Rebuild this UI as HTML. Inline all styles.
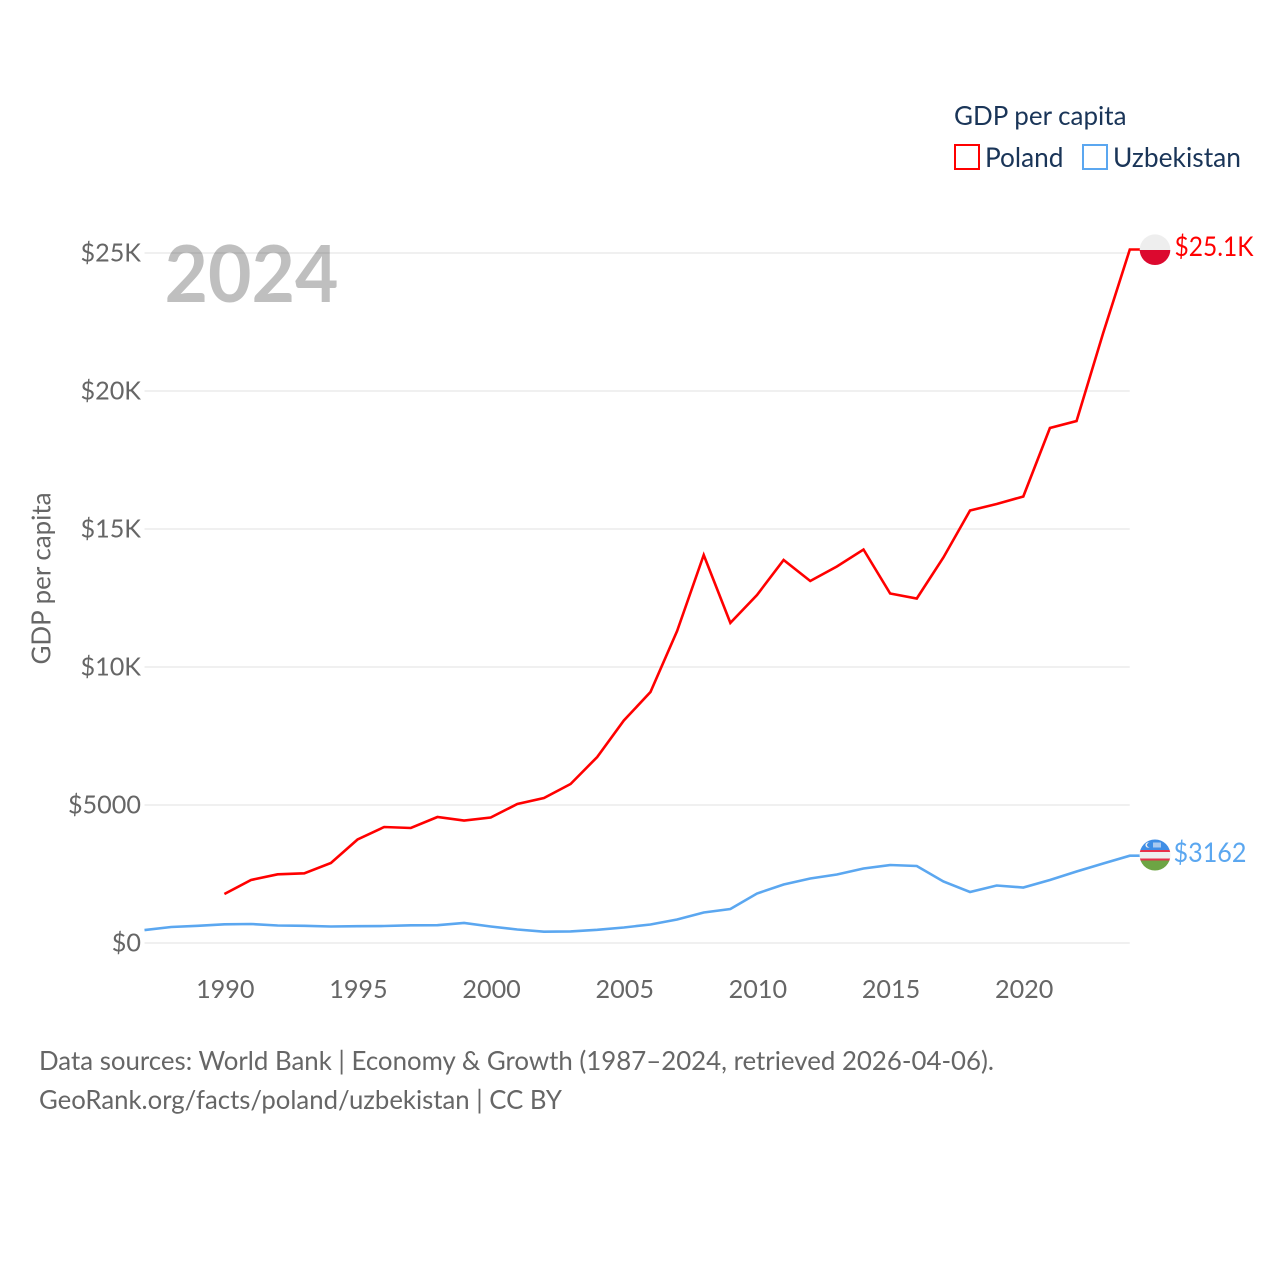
<!DOCTYPE html>
<html lang="en">
<head>
<meta charset="utf-8">
<title>GDP per capita: Poland and Uzbekistan</title>
<style>
html,body{margin:0;padding:0;background:#fff;width:1280px;height:1280px;overflow:hidden}
svg{display:block}
text{font-family:"Lato","Carlito","Liberation Sans",sans-serif}
</style>
</head>
<body>
<svg id="chart" xmlns="http://www.w3.org/2000/svg" width="1280" height="1280" viewBox="0 0 1280 1280">
  <defs>
    <clipPath id="clip-pl"><circle cx="1155" cy="249.7" r="15.3"/></clipPath>
    <clipPath id="clip-uz"><circle cx="1155" cy="855" r="15.5"/></clipPath>
  </defs>
  <g id="grid"></g>
  <g id="yticks"></g>
  <g id="xticks"></g>
  <text x="164.5" y="302" font-size="79" font-weight="700" fill="#000" fill-opacity="0.25" textLength="174" lengthAdjust="spacingAndGlyphs">2024</text>
  <text transform="translate(50.5,664.5) rotate(-90)" font-size="26" fill="#666" textLength="172" lengthAdjust="spacingAndGlyphs">GDP per capita</text>
  <g id="series"></g>

  <g clip-path="url(#clip-pl)">
    <rect x="1139" y="234" width="32" height="16" fill="#eeeeee"/>
    <rect x="1139" y="250" width="32" height="16" fill="#dc092f"/>
  </g>
  <g clip-path="url(#clip-uz)">
    <rect x="1139" y="839" width="32" height="11" fill="#3f8ee6"/>
    <rect x="1139" y="850" width="32" height="2" fill="#e8304a"/>
    <rect x="1139" y="852" width="32" height="6.5" fill="#eeeeee"/>
    <rect x="1139" y="858.5" width="32" height="2" fill="#e8304a"/>
    <rect x="1139" y="860.5" width="32" height="11" fill="#6da544"/>
    <rect x="1153" y="842.5" width="8" height="5" fill="#a9c9f0"/>
    <circle cx="1148" cy="845" r="2.6" fill="#eeeeee"/>
    <circle cx="1149.2" cy="845" r="2.2" fill="#3f8ee6"/>
  </g>
  <text id="label-pl" x="1174.5" y="256" font-size="27" fill="#ff0000" textLength="79" lengthAdjust="spacingAndGlyphs"></text>
  <text id="label-uz" x="1173.5" y="862" font-size="27" fill="#5ba7f0" textLength="73" lengthAdjust="spacingAndGlyphs"></text>

  <g>
    <text x="954" y="125" font-size="26.5" fill="#1a3558" textLength="172.5" lengthAdjust="spacingAndGlyphs">GDP per capita</text>
    <g>
      <rect x="955" y="145" width="24" height="24" fill="none" stroke="#ff0000" stroke-width="2"/>
      <text x="985" y="167" font-size="27" fill="#1a3558" textLength="78.5" lengthAdjust="spacingAndGlyphs">Poland</text>
    </g>
    <g>
      <rect x="1083" y="145" width="24" height="24" fill="none" stroke="#5ba7f0" stroke-width="2"/>
      <text x="1113" y="167" font-size="27" fill="#1a3558" textLength="128" lengthAdjust="spacingAndGlyphs">Uzbekistan</text>
    </g>
  </g>

  <text x="39" y="1070" font-size="26.5" fill="#666" textLength="955" lengthAdjust="spacingAndGlyphs">Data sources: World Bank | Economy &amp; Growth (1987–2024, retrieved 2026-04-06).</text>
  <text x="39" y="1109" font-size="26.5" fill="#666" textLength="523" lengthAdjust="spacingAndGlyphs">GeoRank.org/facts/poland/uzbekistan | CC BY</text>
</svg>
<script>
var polandYears = [1990,1991,1992,1993,1994,1995,1996,1997,1998,1999,2000,2001,2002,2003,2004,2005,2006,2007,2008,2009,2010,2011,2012,2013,2014,2015,2016,2017,2018,2019,2020,2021,2022,2023,2024];
var polandValues = [1775,2283,2489,2525,2899,3750,4203,4167,4565,4438,4547,5036,5254,5761,6739,8062,9094,11304,14058,11600,12609,13877,13116,13641,14257,12663,12482,13967,15670,15906,16178,18659,18913,22101,25127];
var uzbekistanYears = [1987,1988,1989,1990,1991,1992,1993,1994,1995,1996,1997,1998,1999,2000,2001,2002,2003,2004,2005,2006,2007,2008,2009,2010,2011,2012,2013,2014,2015,2016,2017,2018,2019,2020,2021,2022,2023,2024];
var uzbekistanValues = [470,580,623,678,688,634,623,598,608,616,641,645,725,598,489,409,420,478,562,670,851,1105,1232,1793,2120,2337,2482,2699,2826,2790,2228,1848,2083,2011,2283,2590,2880,3162];
var yTickValues = [0,5000,10000,15000,20000,25000];
var yTickLabels = ["$0","$5000","$10K","$15K","$20K","$25K"];
var xTickValues = [1990,1995,2000,2005,2010,2015,2020];
var polandEndLabel = "$25.1K";
var uzbekistanEndLabel = "$3162";

var NS = "http://www.w3.org/2000/svg";
function xScale(year){ return 144.5 + (year - 1987) * 26.63; }
function yScale(value){ return 943 - value * 0.0276; }

var grid = document.getElementById("grid");
var yticks = document.getElementById("yticks");
var xticks = document.getElementById("xticks");
var series = document.getElementById("series");

yTickValues.forEach(function(v, i){
  var line = document.createElementNS(NS, "line");
  
  
  line.setAttribute("x1", xScale(1987));
  line.setAttribute("x2", xScale(2024));
  line.setAttribute("y1", yScale(v));
  line.setAttribute("y2", yScale(v));
  line.setAttribute("stroke", "#e8e8e8");
  line.setAttribute("stroke-width", "1.3");
  grid.appendChild(line);

  var t = document.createElementNS(NS, "text");
  
  
  t.setAttribute("x", 141);
  t.setAttribute("y", yScale(v) + 8.3);
  t.setAttribute("text-anchor", "end");
  t.setAttribute("font-size", "25.2");
  t.setAttribute("fill", "#666");
  t.textContent = yTickLabels[i];
  yticks.appendChild(t);
});

xTickValues.forEach(function(y){
  var t = document.createElementNS(NS, "text");
  
  
  t.setAttribute("x", xScale(y) + 0.9);
  t.setAttribute("y", 998);
  t.setAttribute("text-anchor", "middle");
  t.setAttribute("font-size", "25.2");
  t.setAttribute("fill", "#666");
  t.textContent = y;
  xticks.appendChild(t);
});

function pathFor(years, values){
  var d = years.map(function(y, i){
    return (i ? "L" : "M") + xScale(y).toFixed(2) + " " + yScale(values[i]).toFixed(2);
  }).join(" ");
  return d + " H1140";
}

var uzLine = document.createElementNS(NS, "path");


uzLine.setAttribute("d", pathFor(uzbekistanYears, uzbekistanValues));
uzLine.setAttribute("fill", "none");
uzLine.setAttribute("stroke", "#5ba7f0");
uzLine.setAttribute("stroke-width", "2.6");
series.appendChild(uzLine);

var plLine = document.createElementNS(NS, "path");


plLine.setAttribute("d", pathFor(polandYears, polandValues));
plLine.setAttribute("fill", "none");
plLine.setAttribute("stroke", "#ff0000");
plLine.setAttribute("stroke-width", "2.6");
series.appendChild(plLine);

document.getElementById("label-pl").textContent = polandEndLabel;
document.getElementById("label-uz").textContent = uzbekistanEndLabel;
</script>
</body>
</html>
